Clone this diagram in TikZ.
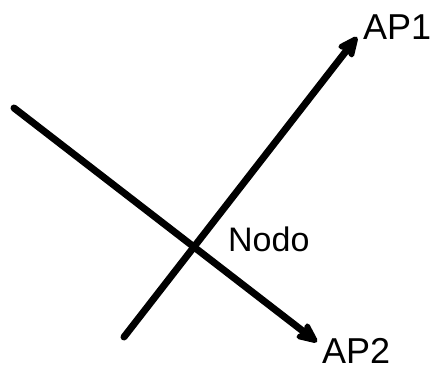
\documentclass[tikz,border=0pt]{standalone}
\usepackage{fontspec}
\setmainfont{Liberation Sans}
\usetikzlibrary{arrows.meta}
\begin{document}
\begin{tikzpicture}[x=1pt,y=-1pt,
  conn/.style={line width=7pt,line cap=round,-{Stealth[length=26pt,width=23pt,inset=5pt,round]}},
  lbl/.style={inner sep=0pt,anchor=base west,font=\fontsize{36}{42}\selectfont}]
\useasboundingbox (0,0) rectangle (432,371);
\coordinate (s1) at (14,108);
\coordinate (t1) at (317,342);
\coordinate (s2) at (124,337);
\coordinate (t2) at (357,37);
\draw[conn] (s1) -- (t1);
\draw[conn] (s2) -- (t2);
\node[lbl] (ap1) at (363,40) {AP1};
\node[lbl] (ap2) at (322,364) {AP2};
\node[lbl,font=\fontsize{34}{40}\selectfont] (nodo) at (228,252) {Nodo};
\end{tikzpicture}
\end{document}
